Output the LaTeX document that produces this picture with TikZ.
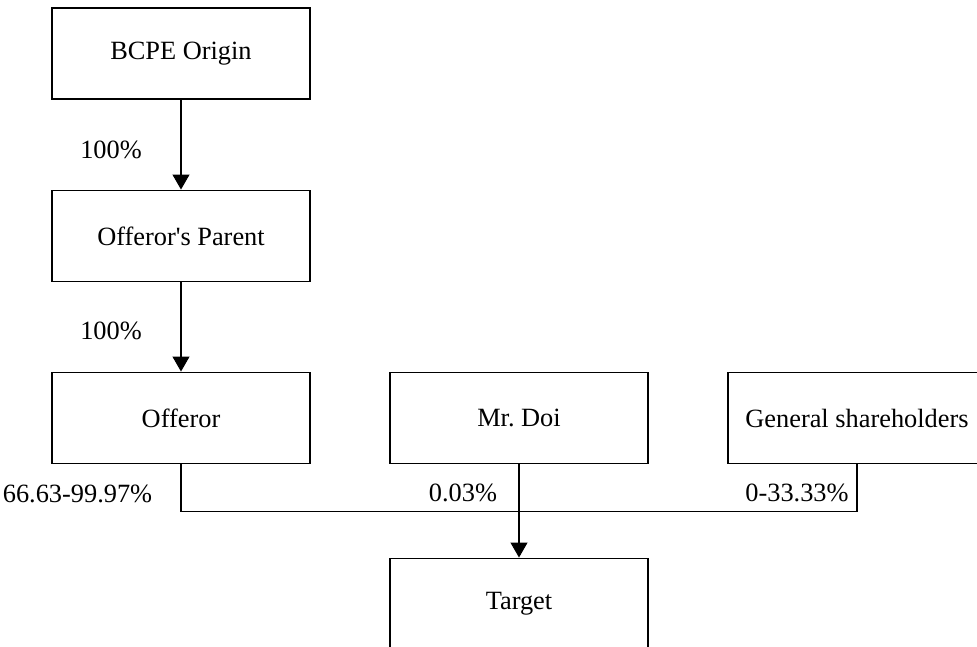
\documentclass[tikz,border=0pt]{standalone}
\usepackage{fontspec}
\setmainfont{Liberation Serif}
\usetikzlibrary{arrows.meta}
\frenchspacing
\begin{document}
\begin{tikzpicture}[
    box/.style={draw, line width=1.1pt, minimum width=5.16cm, minimum height=1.82cm, inner sep=0pt},
    pct/.style={inner sep=0pt},
    link/.style={line width=0.6pt, -{Triangle[width=0.34cm,length=0.3cm]}},
    font=\fontsize{15}{18}\selectfont]
    \useasboundingbox (0,0) rectangle (19.54,-12.92);
    %% companies
    \node[box] (origin) at (3.62,-1.07) {BCPE Origin};
    \node[box] (parent) at (3.62,-4.72) {Offeror\textquotesingle s Parent};
    \node[box] (offeror) at (3.62,-8.36) {Offeror};
    \node[box] (doi) at (10.38,-8.36) {Mr. Doi};
    \node[box] (general) at (17.14,-8.36) {General shareholders};
    \node[box] (target) at (10.38,-12.08) {Target};
    %% holdings
    \draw[link] (origin) -- (parent);
    \draw[link] (parent) -- (offeror);
    \draw[line width=0.6pt] (offeror.south) -- ++(0,-0.94) -| (general.south);
    \draw[link] (doi) -- (target);
    %% labels
    \node[pct] (p1) at (2.22,-3.0) {100\%};
    \node[pct] (p2) at (2.22,-6.62) {100\%};
    \node[pct] (p3) at (1.55,-9.88) {66.63-99.97\%};
    \node[pct] (p4) at (9.26,-9.86) {0.03\%};
    \node[pct] (p5) at (15.94,-9.86) {0-33.33\%};
\end{tikzpicture}
\end{document}
